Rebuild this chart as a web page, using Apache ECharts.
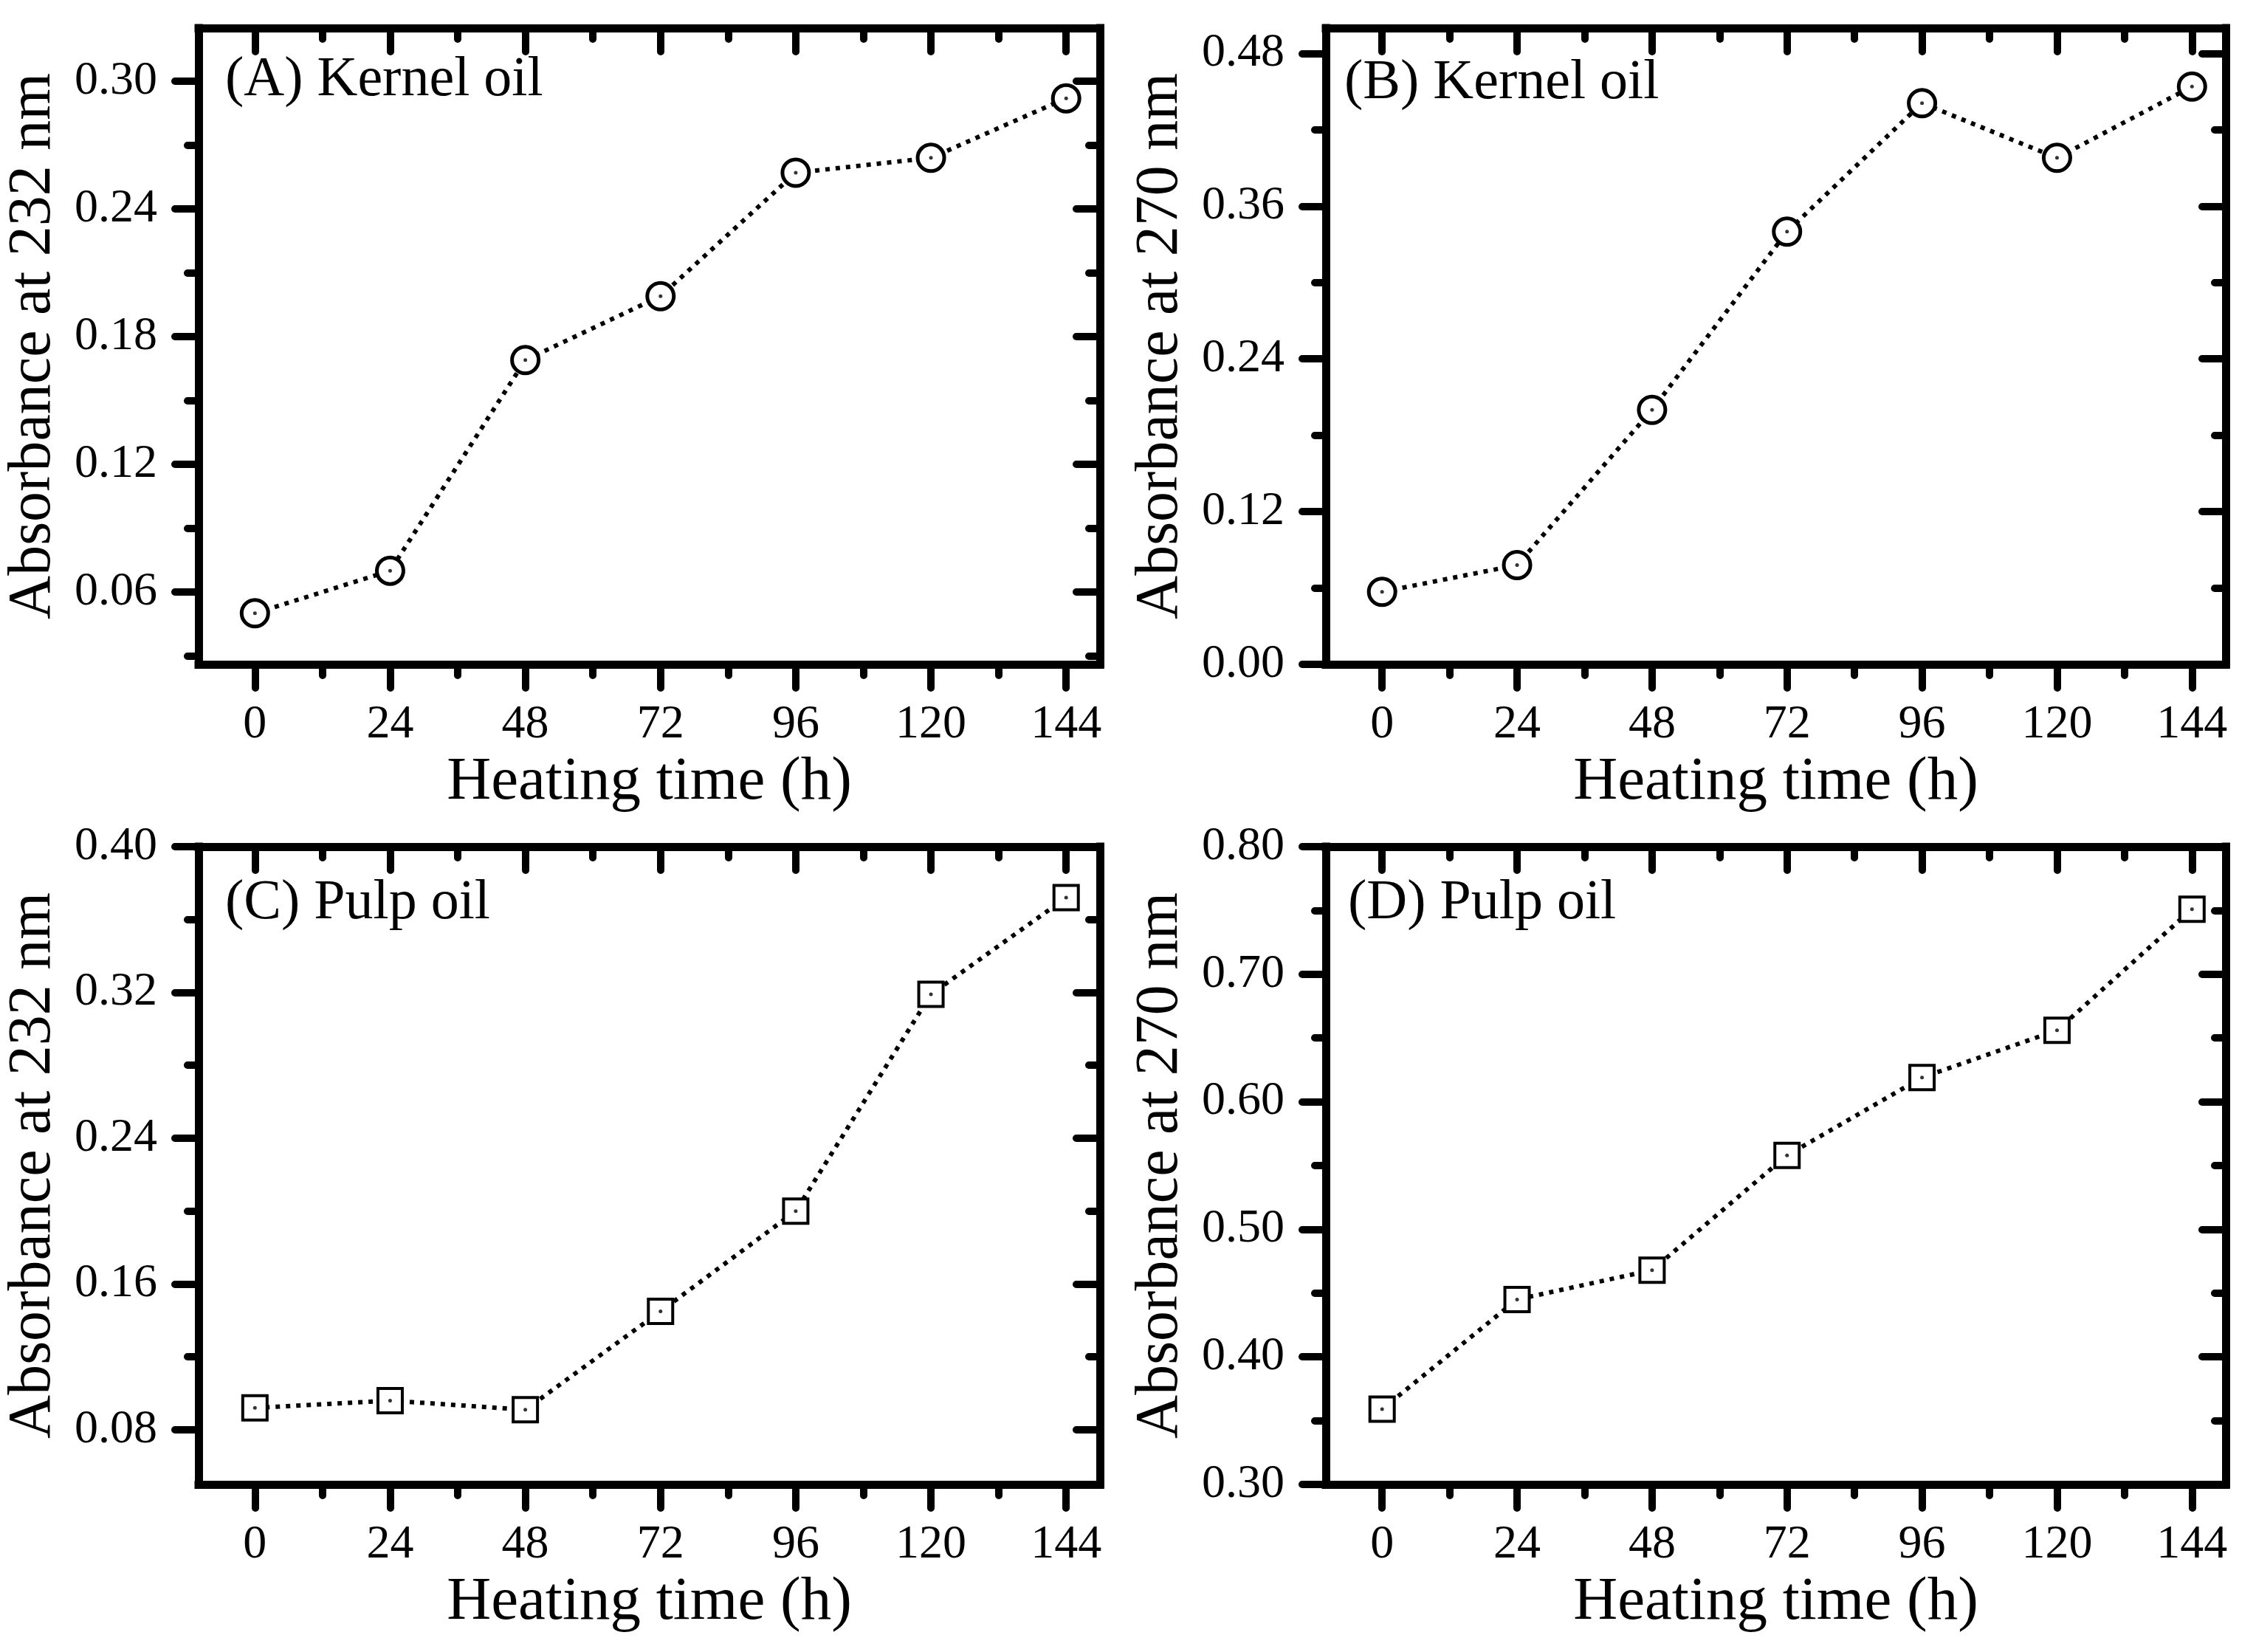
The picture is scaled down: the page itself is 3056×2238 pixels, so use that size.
<!DOCTYPE html>
<html>
<head>
<meta charset="utf-8">
<script src="https://cdn.jsdelivr.net/npm/echarts@6/dist/echarts.min.js"></script>
<style>
  html, body { margin: 0; padding: 0; background: #fff; }
  #chart { width: 3056px; height: 2238px; }
</style>
</head>
<body>
<div id="chart"></div>
<script>
// heating time (h)
const hours = [0, 24, 48, 72, 96, 120, 144];

// absorbance values
const kernel232 = [0.050, 0.070, 0.169, 0.199, 0.257, 0.264, 0.292];
const kernel270 = [0.057, 0.078, 0.200, 0.340, 0.441, 0.398, 0.454];
const pulp232 = [0.092, 0.096, 0.091, 0.145, 0.200, 0.319, 0.372];
const pulp270 = [0.359, 0.445, 0.468, 0.558, 0.619, 0.656, 0.751];

// tick labels
const xMajor = [0, 24, 48, 72, 96, 120, 144];
const xMinor = [12, 36, 60, 84, 108, 132];
const yMajorA = [0.06, 0.12, 0.18, 0.24, 0.30];
const yMinorA = [0.03, 0.09, 0.15, 0.21, 0.27];
const yMajorB = [0.00, 0.12, 0.24, 0.36, 0.48];
const yMinorB = [0.06, 0.18, 0.30, 0.42];
const yMajorC = [0.08, 0.16, 0.24, 0.32, 0.40];
const yMinorC = [0.12, 0.20, 0.28, 0.36];
const yMajorD = [0.30, 0.40, 0.50, 0.60, 0.70, 0.80];
const yMinorD = [0.35, 0.45, 0.55, 0.65, 0.75];

const FONT = '"Liberation Serif", serif';
const LINE_W = 11;
const MAJOR_LEN = 32;
const MINOR_LEN = 15;

const panels = [
    { label: '(A) Kernel oil', data: kernel232, symbol: 'circle', yName: 'Absorbance at 232 nm',
      yMin: 0.026, yMax: 0.325, yMajor: yMajorA, yMinor: yMinorA,
      grid: { left: 269, top: 38, width: 1221, height: 862 }, labelPos: [305, 71] },
    { label: '(B) Kernel oil', data: kernel270, symbol: 'circle', yName: 'Absorbance at 270 nm',
      yMin: 0, yMax: 0.50, yMajor: yMajorB, yMinor: yMinorB,
      grid: { left: 1796, top: 38, width: 1219, height: 862 }, labelPos: [1821, 75] },
    { label: '(C) Pulp oil', data: pulp232, symbol: 'rect', yName: 'Absorbance at 232 nm',
      yMin: 0.05, yMax: 0.40, yMajor: yMajorC, yMinor: yMinorC,
      grid: { left: 269, top: 1147, width: 1221, height: 864 }, labelPos: [305, 1186] },
    { label: '(D) Pulp oil', data: pulp270, symbol: 'rect', yName: 'Absorbance at 270 nm',
      yMin: 0.30, yMax: 0.80, yMajor: yMajorD, yMinor: yMinorD,
      grid: { left: 1796, top: 1147, width: 1219, height: 864 }, labelPos: [1826, 1186] }
];

const chart = echarts.init(document.getElementById('chart'));

const grids = [], xAxes = [], yAxes = [], series = [], titles = [];

function axisBase(gridIndex, min, max, position) {
    return {
        type: 'value', gridIndex: gridIndex, min: min, max: max, position: position,
        splitLine: { show: false },
        axisLine: { show: false, onZero: false },
        axisLabel: { show: false },
        axisTick: { show: false }
    };
}

function tickStyle(values, len, inside) {
    return {
        show: true, customValues: values, length: len, inside: inside,
        lineStyle: { color: '#000', width: 10, cap: 'round' }
    };
}

const frameLine = { show: true, onZero: false, lineStyle: { color: '#000', width: LINE_W, cap: 'square' } };

panels.forEach(function(p, i) {
    grids.push(Object.assign({ containLabel: false }, p.grid));

    // bottom axis with labels and name
    const xMain = axisBase(i, -10, 150, 'bottom');
    xMain.axisLine = frameLine;
    xMain.axisTick = tickStyle(xMajor, MAJOR_LEN, false);
    xMain.axisLabel = {
        show: true, customValues: xMajor, margin: 50,
        color: '#000', fontFamily: FONT, fontSize: 64
    };
    xMain.name = 'Heating time (h)';
    xMain.nameLocation = 'middle';
    xMain.nameGap = 119;
    xMain.nameTextStyle = { color: '#000', fontFamily: FONT, fontSize: 83 };
    const xMainIndex = xAxes.length;
    xAxes.push(xMain);

    const xMinorAx = axisBase(i, -10, 150, 'bottom');
    xMinorAx.axisTick = tickStyle(xMinor, MINOR_LEN, false);
    xAxes.push(xMinorAx);

    const xTop = axisBase(i, -10, 150, 'top');
    xTop.axisLine = frameLine;
    xTop.axisTick = tickStyle(xMajor, MAJOR_LEN, true);
    xAxes.push(xTop);

    const xTopMinor = axisBase(i, -10, 150, 'top');
    xTopMinor.axisTick = tickStyle(xMinor, MINOR_LEN, true);
    xAxes.push(xTopMinor);

    // left axis with labels and name
    const yMain = axisBase(i, p.yMin, p.yMax, 'left');
    yMain.axisLine = frameLine;
    yMain.axisTick = tickStyle(p.yMajor, MAJOR_LEN, false);
    yMain.axisLabel = {
        show: true, customValues: p.yMajor, margin: 56,
        color: '#000', fontFamily: FONT, fontSize: 64,
        formatter: function(v) { return v.toFixed(2); }
    };
    yMain.name = p.yName;
    yMain.nameLocation = 'middle';
    yMain.nameGap = 183;
    yMain.nameTextStyle = { color: '#000', fontFamily: FONT, fontSize: 82 };
    const yMainIndex = yAxes.length;
    yAxes.push(yMain);

    const yMinorAx = axisBase(i, p.yMin, p.yMax, 'left');
    yMinorAx.axisTick = tickStyle(p.yMinor, MINOR_LEN, false);
    yAxes.push(yMinorAx);

    const yRight = axisBase(i, p.yMin, p.yMax, 'right');
    yRight.axisLine = frameLine;
    yRight.axisTick = tickStyle(p.yMajor, MAJOR_LEN, true);
    yAxes.push(yRight);

    const yRightMinor = axisBase(i, p.yMin, p.yMax, 'right');
    yRightMinor.axisTick = tickStyle(p.yMinor, MINOR_LEN, true);
    yAxes.push(yRightMinor);

    const points = hours.map(function(h, k) { return [h, p.data[k]]; });

    const isCircle = p.symbol === 'circle';
    series.push({
        type: 'line',
        xAxisIndex: xMainIndex, yAxisIndex: yMainIndex,
        data: points,
        symbol: p.symbol,
        symbolSize: isCircle ? 36 : 33,
        showAllSymbol: true,
        lineStyle: { color: '#000', width: 6, type: [6, 8] },
        itemStyle: { color: '#fff', borderColor: '#000', borderWidth: isCircle ? 5 : 4 },
        z: 3
    });
    // small dot at the centre of each marker
    series.push({
        type: 'scatter',
        xAxisIndex: xMainIndex, yAxisIndex: yMainIndex,
        data: points,
        symbol: 'circle',
        symbolSize: 5,
        itemStyle: { color: '#000' },
        z: 4
    });

    titles.push({
        text: p.label,
        left: p.labelPos[0],
        top: p.labelPos[1],
        padding: 0,
        textStyle: { color: '#000', fontFamily: FONT, fontSize: 76, fontWeight: 'normal' }
    });
});

chart.setOption({
    animation: false,
    backgroundColor: '#fff',
    title: titles,
    grid: grids,
    xAxis: xAxes,
    yAxis: yAxes,
    series: series
});
</script>
</body>
</html>
